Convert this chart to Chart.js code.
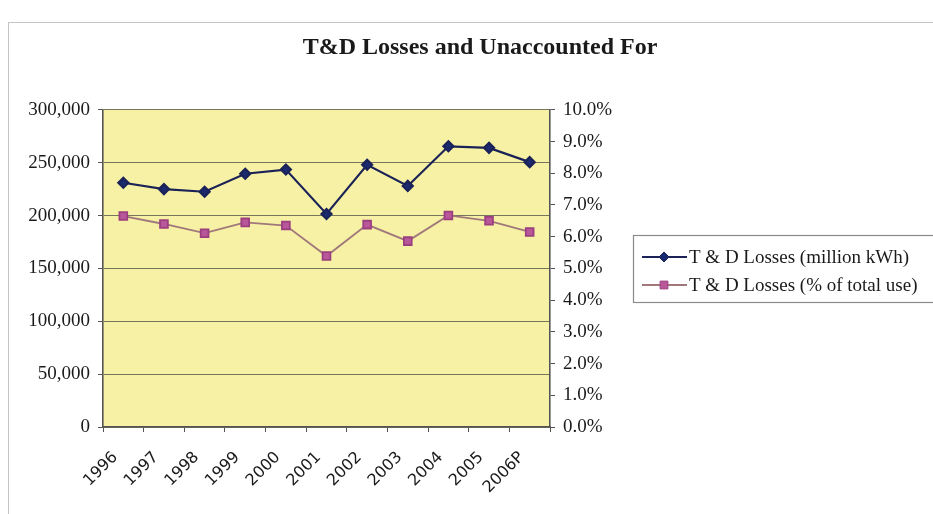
<!DOCTYPE html>
<html>
<head>
<meta charset="utf-8">
<script src="https://cdn.jsdelivr.net/npm/chart.js@4.4.1/dist/chart.umd.min.js"></script>
<style>
  html, body { margin: 0; padding: 0; background: #fff; overflow: hidden; }
  #frame { position: absolute; left: 8px; top: 22px; width: 1000px; height: 600px; border: 1px solid #c4c4c4; }
  #wrap { position: absolute; left: 0; top: 0; width: 960px; height: 514px; }
</style>
</head>
<body>
<div id="frame"></div>
<div id="wrap"><canvas id="lossChart" width="960" height="514"></canvas></div>
<script>
// years on the category axis
const years = ['1996', '1997', '1998', '1999', '2000', '2001', '2002', '2003', '2004', '2005', '2006P'];
// T & D losses, million kWh (left axis)
const lossKwh = [231000, 225000, 222500, 239500, 243500, 201500, 248000, 228000, 265500, 264000, 250500];
// T & D losses, % of total use (right axis)
const lossPct = [6.65, 6.40, 6.11, 6.45, 6.35, 5.39, 6.38, 5.86, 6.67, 6.50, 6.15];
// axis ticks
const leftTicks = [0, 50000, 100000, 150000, 200000, 250000, 300000];
const rightTicks = [0, 1, 2, 3, 4, 5, 6, 7, 8, 9, 10];

const serif = 'Liberation Serif';

// yellow plot area
const plotBg = {
    id: 'plotBg',
    beforeDraw(chart) {
        const a = chart.chartArea;
        const ctx = chart.ctx;
        ctx.save();
        ctx.fillStyle = '#f6f1a4';
        ctx.fillRect(a.left, a.top, a.right - a.left, a.bottom - a.top);
        ctx.restore();
    }
};

// excel style boxed legend, line sample with marker
const boxLegend = {
    id: 'boxLegend',
    afterDraw(chart) {
        const ctx = chart.ctx;
        const x0 = 633, y0 = 235, y1 = 302;
        ctx.save();
        ctx.strokeStyle = '#8a8a8a';
        ctx.lineWidth = 1.2;
        ctx.strokeRect(x0 + 0.5, y0 + 0.5, 400, y1 - y0);
        chart.data.datasets.forEach((ds, i) => {
            const y = 257 + i * 28;
            ctx.strokeStyle = ds.borderColor;
            ctx.lineWidth = 2;
            ctx.beginPath();
            ctx.moveTo(642, y);
            ctx.lineTo(687, y);
            ctx.stroke();
            ctx.fillStyle = ds.pointBackgroundColor;
            ctx.strokeStyle = ds.pointBorderColor;
            ctx.lineWidth = 1;
            Chart.helpers.drawPoint(ctx, {
                pointStyle: ds.pointStyle,
                radius: ds.pointRadius,
                borderWidth: 1
            }, 664, y);
            ctx.fillStyle = '#1a1a1a';
            ctx.font = '19px "' + serif + '"';
            ctx.textBaseline = 'middle';
            ctx.textAlign = 'left';
            ctx.fillText(ds.label, 689, y + 1);
        });
        ctx.restore();
    }
};

const ctx = document.getElementById('lossChart').getContext('2d');

const lossChart = new Chart(ctx, {
    type: 'line',
    data: {
        labels: years,
        datasets: [{
            label: 'T & D Losses (million kWh)',
            data: lossKwh,
            yAxisID: 'y',
            borderColor: '#1b2257',
            borderWidth: 2.2,
            pointStyle: 'rectRot',
            pointRadius: 5,
            pointBackgroundColor: '#1b2a6e',
            pointBorderColor: '#1b2257',
            tension: 0
        }, {
            label: 'T & D Losses (% of total use)',
            data: lossPct,
            yAxisID: 'y1',
            borderColor: '#a0787c',
            borderWidth: 1.8,
            pointStyle: 'rect',
            pointRadius: 5.5,
            pointBackgroundColor: '#b8579a',
            pointBorderColor: '#9c3f80',
            tension: 0
        }]
    },
    options: {
        responsive: false,
        devicePixelRatio: 1,
        animation: false,
        layout: {
            padding: 0
        },
        plugins: {
            legend: { display: false },
            tooltip: { enabled: false },
            title: {
                display: true,
                text: 'T&D Losses and Unaccounted For',
                color: '#1a1a1a',
                font: { family: serif, size: 24, weight: 'bold', lineHeight: 1.2 },
                padding: { top: 33, bottom: 48 }
            }
        },
        scales: {
            x: {
                offset: true,
                grid: { offset: true, drawOnChartArea: false, drawTicks: true, tickLength: 5, color: '#555' },
                border: { color: '#555', width: 1.6 },
                ticks: {
                    autoSkip: false,
                    minRotation: 45,
                    maxRotation: 45,
                    padding: 16,
                    labelOffset: -8,
                    color: '#1a1a1a',
                    font: { family: 'DejaVu Sans', size: 16 }
                },
                afterFit(scale) { scale.height = 87; }
            },
            y: {
                position: 'left',
                min: 0,
                max: 300000,
                afterBuildTicks(scale) { scale.ticks = leftTicks.map(v => ({ value: v })); },
                grid: { color: '#75755c', lineWidth: 1, tickLength: 5, tickColor: '#555' },
                border: { color: '#555', width: 1.6 },
                ticks: {
                    padding: 8,
                    color: '#1a1a1a',
                    font: { family: serif, size: 19 },
                    callback: v => v.toLocaleString('en-US')
                },
                afterFit(scale) { scale.width = 103; }
            },
            y1: {
                position: 'right',
                min: 0,
                max: 10,
                afterBuildTicks(scale) { scale.ticks = rightTicks.map(v => ({ value: v })); },
                grid: { drawOnChartArea: false, tickLength: 5, color: '#555' },
                border: { color: '#555', width: 1.6 },
                ticks: {
                    padding: 8,
                    color: '#1a1a1a',
                    font: { family: serif, size: 19 },
                    callback: v => v.toFixed(1) + '%'
                },
                afterFit(scale) { scale.width = 410; }
            }
        }
    },
    plugins: [plotBg, boxLegend]
});
</script>
</body>
</html>
